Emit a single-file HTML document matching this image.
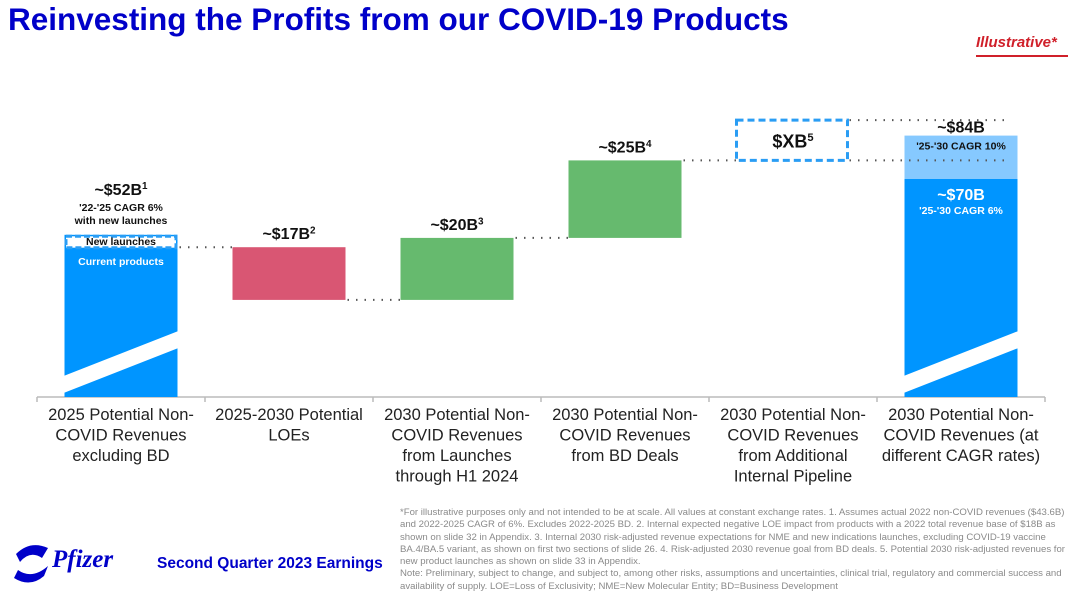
<!DOCTYPE html>
<html><head><meta charset="utf-8"><style>
body{margin:0;width:1080px;height:596px;background:#fff;font-family:"Liberation Sans",sans-serif;overflow:hidden;position:relative}
.t{position:absolute}
</style></head><body>
<div class="t" style="left:8px;top:1px;font-size:31.5px;font-weight:bold;color:#0000c9">Reinvesting the Profits from our COVID-19 Products</div>
<div class="t" style="left:976px;top:34px;font-size:15px;font-weight:bold;font-style:italic;color:#d0202a">Illustrative*</div>
<div class="t" style="left:976px;top:55px;width:92px;height:2px;background:#d0202a"></div>
<svg id="chart" width="1080" height="596" style="position:absolute;left:0;top:0" font-family="Liberation Sans, sans-serif"></svg>
<div class="t" style="left:12px;top:540px;width:125px;height:50px">
<svg width="40" height="48" viewBox="0 0 40 48" style="position:absolute;left:0;top:0"><path d="M4 14 Q18 0 36 8 L30 18 Q18 10 8 22Z" fill="#0000c9"/><path d="M6 30 Q20 40 36 26 L32 36 Q18 48 2 38Z" fill="#0000c9"/></svg>
<span style="position:absolute;left:40px;top:6px;font-size:25px;font-style:italic;font-weight:bold;color:#0000c9;font-family:'Liberation Serif',serif">Pfizer</span></div>
<div class="t" style="left:157px;top:555px;font-size:15.5px;font-weight:bold;color:#0000c9">Second Quarter 2023 Earnings</div>
<div class="t" style="left:400px;top:507px;width:678px;font-size:9.6px;line-height:12.3px;color:#8a8a8a">*For illustrative purposes only and not intended to be at scale. All values at constant exchange rates. 1. Assumes actual 2022 non-COVID revenues ($43.6B) and 2022-2025 CAGR of 6%. Excludes 2022-2025 BD. 2. Internal expected negative LOE impact from products with a 2022 total revenue base of $18B as shown on slide 32 in Appendix. 3. Internal 2030 risk-adjusted revenue expectations for NME and new indications launches, excluding COVID-19 vaccine BA.4/BA.5 variant, as shown on first two sections of slide 26. 4. Risk-adjusted 2030 revenue goal from BD deals. 5. Potential 2030 risk-adjusted revenues for new product launches as shown on slide 33 in Appendix.<br>Note: Preliminary, subject to change, and subject to, among other risks, assumptions and uncertainties, clinical trial, regulatory and commercial success and availability of supply. LOE=Loss of Exclusivity; NME=New Molecular Entity; BD=Business Development</div>
<script>
const categories=[["2025 Potential Non-","COVID Revenues","excluding BD"],["2025-2030 Potential","LOEs"],["2030 Potential Non-","COVID Revenues","from Launches","through H1 2024"],["2030 Potential Non-","COVID Revenues","from BD Deals"],["2030 Potential Non-","COVID Revenues","from Additional","Internal Pipeline"],["2030 Potential Non-","COVID Revenues (at","different CAGR rates)"]];
const deltas=[52,-17,20,25,13,84];
const valueLabels=["~$52B","~$17B","~$20B","~$25B","$XB",""];
const supers=["1","2","3","4","5",""];
const newLaunches=4;
const baseCase=70;
const svg=document.getElementById('chart');
const NS='http://www.w3.org/2000/svg';
const x0=37,colW=168,axisY=397,bw=113;
const y=v=>396-3.1*v;
const cx=i=>x0+colW*i+colW/2;
function el(t,a,p){const e=document.createElementNS(NS,t);for(const k in a)e.setAttribute(k,a[k]);(p||svg).appendChild(e);return e;}
function txt(x,yy,s,size,fill,weight,name,sup){const e=el('text',{x:x,y:yy,'font-size':size,fill:fill,'font-weight':weight||'normal','text-anchor':'middle'});


e.textContent=s;if(sup){const t=el('tspan',{'font-size':size*0.62,dy:-size*0.35},e);t.textContent=sup;}return e;}
const ax=el('line',{x1:x0,x2:x0+colW*6,y1:axisY,y2:axisY,stroke:'#bbb','stroke-width':1.5});


for(let i=0;i<=6;i++){const tk=el('line',{x1:x0+colW*i,x2:x0+colW*i,y1:axisY,y2:axisY+5,stroke:'#bbb','stroke-width':1.5});

}
categories.forEach((c,i)=>c.forEach((l,j)=>txt(cx(i),420+j*20.5,l,16.5,'#222','normal','category-label')));
let run=0;
deltas.forEach((d,i)=>{
 const x=cx(i)-bw/2;let a,b,fill;
 if(i===0||i===5){a=0;b=d;fill='#0095ff';}
 else if(i===4){a=run;b=run+d;}
 else{a=run;b=run+d;fill=d<0?'#d95673':'#66ba6e';}
 const top=Math.min(y(a),y(b)),bot=Math.max(y(a),y(b));
 if(i===4){const r=el('rect',{x:x,y:top,width:bw-2,height:bot-top,fill:'none',stroke:'#2a9df4','stroke-width':3,'stroke-dasharray':'7,4'});
  
  
  txt(cx(i),(top+bot)/2+7,valueLabels[i],18,'#111','bold','value-label-xb',supers[i]);}
 else if(i===5){const r=el('rect',{x:x,y:y(b),width:bw,height:axisY-y(b),fill:'#86c9ff'});
  
  
  const r2=el('rect',{x:x,y:y(baseCase),width:bw,height:axisY-y(baseCase),fill:fill});
  
  
  txt(cx(i),y(b)-3,'~$'+deltas[5]+'B',16,'#111','bold','value-label-84b');
  txt(cx(i),y(b)+14,"'25-'30 CAGR 10%",10.5,'#111','bold','cagr10-label');
  txt(cx(i),y(baseCase)+21,'~$'+baseCase+'B',16,'#fff','bold','value-label-70b');
  txt(cx(i),y(baseCase)+35,"'25-'30 CAGR 6%",10.5,'#fff','bold','cagr6-label');}
 else{const r=el('rect',{x:x,y:top,width:bw,height:(i===0?axisY:bot)-top,fill:fill});
  
  
  if(i===0){const nl=el('rect',{x:x+1.5,y:top+1.5,width:bw-3,height:newLaunches*3.1-1,fill:'#fff',stroke:'#2a9df4','stroke-width':3,'stroke-dasharray':'6,3'});
   
   
   txt(cx(i),top+10,'New launches',10.5,'#111','bold','new-launches-label');
   txt(cx(i),top+30,'Current products',10.5,'#fff','bold','current-products-label');
   txt(cx(i),top-40,valueLabels[i],16,'#111','bold','value-label-52b',supers[i]);
   txt(cx(i),top-24,"'22-'25 CAGR 6%",10.5,'#111','bold','cagr-label');
   txt(cx(i),top-11,'with new launches',10.5,'#111','bold','new-launches-note');}
  else txt(cx(i),top-8,valueLabels[i],16,'#111','bold','value-label-'+i,supers[i]);}
 run=(i===0)?d-newLaunches:run+d;
});
function dots(x1,x2,yy){const l=el('line',{x1:x1,x2:x2,y1:yy,y2:yy,stroke:'#555','stroke-width':2,'stroke-dasharray':'1.5,7'});

}
let acc=deltas[0]-newLaunches;
for(let i=1;i<5;i++){dots(cx(i-1)+bw/2+2,cx(i)-bw/2,y(acc));acc+=deltas[i];}
dots(cx(4)+bw/2,cx(5)+bw/2-10,y(acc-deltas[4]));
dots(cx(4)+bw/2,cx(5)+bw/2-10,y(acc));
[0,5].forEach(i=>{const b=el('polygon',{points:`${cx(i)-bw/2-6},${axisY-19} ${cx(i)+bw/2+6},${axisY-68} ${cx(i)+bw/2+6},${axisY-51} ${cx(i)-bw/2-6},${axisY-2}`,fill:'#fff'});

});
</script>
</body></html>
